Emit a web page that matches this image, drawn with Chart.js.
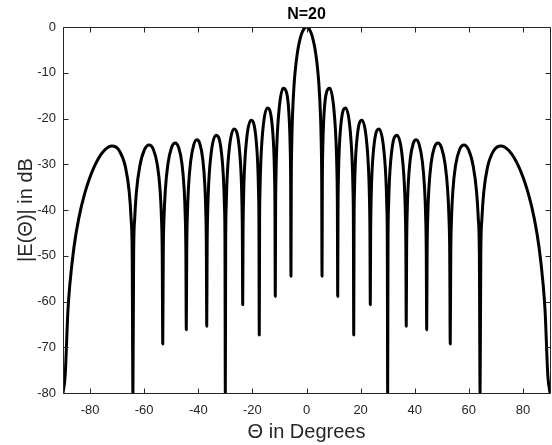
<!DOCTYPE html>
<html><head><meta charset="utf-8">
<script src="https://cdn.jsdelivr.net/npm/chart.js@4.4.1/dist/chart.umd.min.js"></script>
<style>html,body{margin:0;padding:0;background:#fff;}#wrap{width:552px;height:445px;}</style>
</head><body><div id="wrap"><canvas id="c" width="552" height="445"></canvas></div>
<script>
// Angle (degrees) and pattern level (dB)
const thetaDeg = [
  -90.000, -89.190, -88.188, -87.437, -85.948, -84.268, -81.890, -78.522, -74.796, -71.805, -69.228, -66.926, -65.505, -64.823, -64.421,
  -64.158, -63.895, -63.508, -62.873, -61.642, -59.883, -58.212, -56.616, -55.085, -54.096, -53.610, -53.321,
  -53.130, -52.939, -52.655, -52.185, -51.261, -49.907, -48.590, -47.307, -46.054, -45.235, -44.830, -44.588,
  -44.427, -44.267, -44.027, -43.630, -42.843, -41.682, -40.542, -39.419, -38.316, -37.590, -37.229, -37.013,
  -36.870, -36.727, -36.512, -36.157, -35.100, -33.367, -31.668, -30.664, -30.331, -30.132,
  -30.000, -29.868, -29.669, -29.341, -28.359, -26.744, -25.150, -24.205, -23.891, -23.703,
  -23.578, -23.453, -23.265, -22.954, -22.024, -20.487, -18.966, -18.059, -17.758, -17.578,
  -17.458, -17.338, -17.158, -16.858, -15.962, -14.478, -13.003, -12.122, -11.829, -11.654,
  -11.537, -11.420, -11.245, -10.953, -10.079, -8.627, -7.181, -6.315, -6.027, -5.854,
  -5.739, -5.624, -5.451, -5.164, -4.589, -4.014, -3.440, -2.866, -2.292, -1.719, -1.146, -0.573,
  0,
  0.573, 1.146, 1.719, 2.292, 2.866, 3.440, 4.014, 4.589, 5.164, 5.451, 5.624, 5.739,
  5.854, 6.027, 6.315, 7.181, 8.627, 10.079, 10.953, 11.245, 11.420, 11.537,
  11.654, 11.829, 12.122, 13.003, 14.478, 15.962, 16.858, 17.158, 17.338, 17.458,
  17.578, 17.758, 18.059, 18.966, 20.487, 22.024, 22.954, 23.265, 23.453, 23.578,
  23.703, 23.891, 24.205, 25.150, 26.744, 28.359, 29.341, 29.669, 29.868, 30.000,
  30.132, 30.331, 30.664, 31.668, 33.367, 35.100, 36.157, 36.512, 36.727, 36.870,
  37.013, 37.229, 37.590, 38.316, 39.419, 40.542, 41.682, 42.843, 43.630, 44.027, 44.267, 44.427,
  44.588, 44.830, 45.235, 46.054, 47.307, 48.590, 49.907, 51.261, 52.185, 52.655, 52.939, 53.130,
  53.321, 53.610, 54.096, 55.085, 56.616, 58.212, 59.883, 61.642, 62.873, 63.508, 63.895, 64.158,
  64.421, 64.823, 65.505, 66.926, 69.228, 71.805, 74.796, 78.522, 81.890, 84.268, 85.948, 87.437, 88.188, 89.190, 90.000
];
const gainDb = [
  -80, -76.08, -62.10, -56.08, -48.13, -42.10, -36.22, -30.64, -27.01, -25.99, -26.98, -30.57, -36.13, -42.00, -49.92,
  -80, -49.91, -41.98, -36.09, -30.49, -26.82, -25.78, -26.73, -30.29, -35.83, -41.69, -49.60,
  -69.3, -49.58, -41.64, -35.74, -30.11, -26.41, -25.33, -26.25, -29.77, -35.29, -41.13, -49.04,
  -66.2, -49.01, -41.06, -35.15, -29.49, -25.76, -24.64, -25.51, -28.99, -34.48, -40.31, -48.20,
  -65.4, -48.16, -40.21, -34.28, -26.93, -23.64, -26.35, -33.35, -39.16, -47.04,
  -80, -46.98, -39.02, -33.07, -25.67, -22.27, -24.87, -31.79, -37.58, -45.45,
  -60.7, -45.37, -37.39, -31.41, -23.93, -20.38, -22.81, -29.62, -35.37, -43.21,
  -67.3, -43.11, -35.11, -29.09, -21.47, -17.68, -19.82, -26.43, -32.11, -39.90,
  -58.9, -39.74, -31.69, -25.59, -17.70, -13.38, -14.84, -20.93, -26.41, -34.08,
  -54.5, -33.78, -25.58, -19.20, -12.60, -8.67, -5.93, -3.91, -2.41, -1.32, -0.58, -0.14,
  0,
  -0.14, -0.58, -1.32, -2.41, -3.91, -5.93, -8.67, -12.60, -19.20, -25.58, -33.78, -54.5,
  -34.08, -26.41, -20.93, -14.84, -13.38, -17.70, -25.59, -31.69, -39.74, -58.9,
  -39.90, -32.11, -26.43, -19.82, -17.68, -21.47, -29.09, -35.11, -43.11, -67.3,
  -43.21, -35.37, -29.62, -22.81, -20.38, -23.93, -31.41, -37.39, -45.37, -60.7,
  -45.45, -37.58, -31.79, -24.87, -22.27, -25.67, -33.07, -39.02, -46.98, -80,
  -47.04, -39.16, -33.35, -26.35, -23.64, -26.93, -34.28, -40.21, -48.16, -65.4,
  -48.20, -40.31, -34.48, -28.99, -25.51, -24.64, -25.76, -29.49, -35.15, -41.06, -49.01, -66.2,
  -49.04, -41.13, -35.29, -29.77, -26.25, -25.33, -26.41, -30.11, -35.74, -41.64, -49.58, -69.3,
  -49.60, -41.69, -35.83, -30.29, -26.73, -25.78, -26.82, -30.49, -36.09, -41.98, -49.91, -80,
  -49.92, -42.00, -36.13, -30.57, -26.98, -25.99, -27.01, -30.64, -36.22, -42.10, -48.13, -56.08, -62.10, -76.08, -80
];
const xTickValues = [-80, -60, -40, -20, 0, 20, 40, 60, 80];
const yTickValues = [0, -10, -20, -30, -40, -50, -60, -70, -80];
const chartTitle = 'N=20';
const xAxisTitle = 'Θ in Degrees';
const yAxisTitle = '|E(Θ)| in dB';

const axisColor = '#262626';
const fontFamily = '"Liberation Sans", Arial, Helvetica, sans-serif';

const points = thetaDeg.map((t, i) => ({ x: t, y: gainDb[i] }));

const boxTicks = {
  id: 'boxTicks',
  afterDatasetsDraw(chart) {
    const { ctx, chartArea: a, scales: { x, y } } = chart;
    const L = Math.floor(a.left) + 0.5, R = Math.floor(a.right) + 0.5;
    const T = Math.floor(a.top) + 0.5, B = Math.floor(a.bottom) + 0.5;
    ctx.save();
    ctx.strokeStyle = axisColor;
    ctx.lineWidth = 1;
    ctx.beginPath();
    ctx.rect(L, T, R - L, B - T);
    const len = 5;
    xTickValues.forEach(v => {
      const px = Math.round(x.getPixelForValue(v)) + 0.5;
      ctx.moveTo(px, B); ctx.lineTo(px, B - len);
      ctx.moveTo(px, T); ctx.lineTo(px, T + len);
    });
    yTickValues.forEach(v => {
      const py = Math.round(y.getPixelForValue(v)) + 0.5;
      ctx.moveTo(L, py); ctx.lineTo(L + len, py);
      ctx.moveTo(R, py); ctx.lineTo(R - len, py);
    });
    ctx.stroke();
    ctx.restore();
  }
};

new Chart(document.getElementById('c'), {
  type: 'line',
  data: {
    datasets: [{
      data: points,
      borderColor: '#000000',
      borderWidth: 3,
      pointRadius: 0,
      fill: false,
      cubicInterpolationMode: 'monotone',
      borderJoinStyle: 'round'
    }]
  },
  options: {
    responsive: false,
    animation: false,
    devicePixelRatio: 1,
    layout: { padding: { left: 0, right: 2, top: 0, bottom: 0 } },
    plugins: {
      legend: { display: false },
      tooltip: { enabled: false },
      title: {
        display: true,
        text: chartTitle,
        fullSize: false,
        color: '#000000',
        font: { family: fontFamily, size: 16, weight: 'bold' },
        padding: { top: 5, bottom: 2.8 }
      }
    },
    scales: {
      x: {
        type: 'linear',
        min: -90, max: 90,
        grid: { display: false, drawTicks: false },
        border: { display: false },
        afterBuildTicks: s => { s.ticks = xTickValues.map(v => ({ value: v })); },
        afterFit: s => { s.height = 52; },
        ticks: { color: axisColor, font: { family: fontFamily, size: 13 }, padding: 10, maxRotation: 0, autoSkip: false },
        title: { display: true, text: xAxisTitle, color: axisColor, font: { family: fontFamily, size: 20 }, padding: { top: 0, bottom: 1 } }
      },
      y: {
        type: 'linear',
        min: -80, max: 0,
        grid: { display: false, drawTicks: false },
        border: { display: false },
        afterBuildTicks: s => { s.ticks = yTickValues.map(v => ({ value: v })); },
        afterFit: s => { s.width = 63; },
        ticks: { color: axisColor, font: { family: fontFamily, size: 13 }, padding: 7, autoSkip: false },
        title: { display: true, text: yAxisTitle, color: axisColor, font: { family: fontFamily, size: 20 }, padding: { top: 14, bottom: 0 } }
      }
    }
  },
  plugins: [boxTicks]
});
</script>
</body></html>
